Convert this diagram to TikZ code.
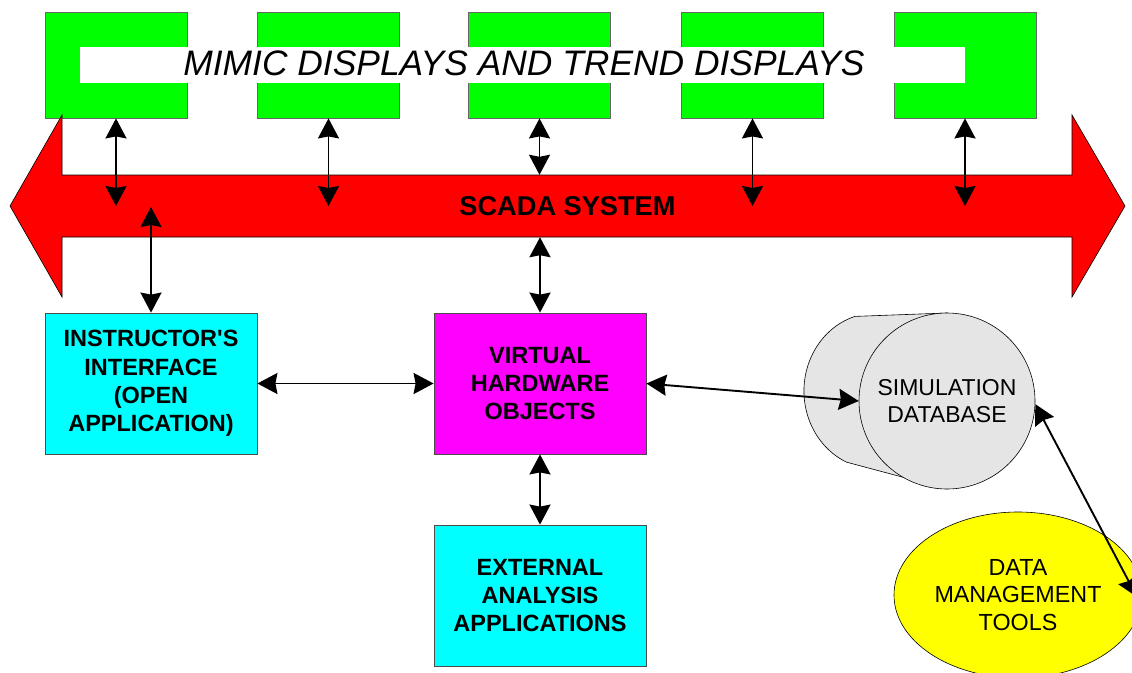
\documentclass[tikz,border=0pt]{standalone}
\usepackage{fontspec}
\setmainfont{Liberation Sans}
\usetikzlibrary{arrows.meta,shapes.geometric}
\definecolor{scgreen}{HTML}{00FF00}
\definecolor{scred}{HTML}{FF0000}
\definecolor{sccyan}{HTML}{00FFFF}
\definecolor{scmag}{HTML}{FF00FF}
\definecolor{scyellow}{HTML}{FFFF00}
\definecolor{scgray}{HTML}{E5E5E5}
\begin{document}
\begin{tikzpicture}[x=1pt,y=-1pt,
  gbox/.style={draw=black!60, line width=0.8pt, fill=scgreen, minimum width=142pt, minimum height=106pt, inner sep=0pt},
  mbox/.style={draw=black!70, line width=0.8pt, minimum width=212pt, minimum height=141pt, inner sep=0pt, align=center, font=\bfseries\fontsize{23.5}{28.3}\selectfont},
  conn/.style={line width=1.9pt, {Stealth[length=20pt,width=21pt,inset=2pt]}-{Stealth[length=20pt,width=21pt,inset=2pt]}},
  thin outline/.style={line width=0.6pt, draw=black}
]
\useasboundingbox (0,0) rectangle (1132,672);
\fill[white] (0,0) rectangle (1132,672);

% display boxes
\node[gbox] (g1) at (116,65) {};
\node[gbox] (g2) at (328.5,65) {};
\node[gbox] (g3) at (539.5,65) {};
\node[gbox] (g4) at (752.5,65) {};
\node[gbox] (g5) at (965,65) {};
\fill[white] (80,47) rectangle (965,83);
\node[font=\itshape\fontsize{35.4}{40}\selectfont, inner sep=0pt] (mimic) at (524,63) {MIMIC DISPLAYS AND TREND DISPLAYS};

% SCADA double arrow
\draw[thin outline, fill=scred] (10,206) -- (62,115) -- (62,175) -- (1072,175) -- (1072,115) -- (1125,206) -- (1072,297) -- (1072,237) -- (62,237) -- (62,297) -- cycle;
\node[minimum width=1010pt, minimum height=62pt, inner sep=0pt, font=\bfseries\fontsize{27.2}{30}\selectfont] (bar) at (567.5,206) {SCADA SYSTEM};

% boxes
\node[mbox, fill=sccyan] (inst) at (151,383.5) {INSTRUCTOR\textquotesingle S\\INTERFACE\\(OPEN\\APPLICATION)};
\node[mbox, fill=scmag] (vho) at (540,383.5) {VIRTUAL\\HARDWARE\\OBJECTS};
\node[mbox, fill=sccyan] (ext) at (540,595.5) {EXTERNAL\\ANALYSIS\\APPLICATIONS};

% database cylinder
\fill[scgray] (947,313) -- (854.9,316.4) arc[start angle=253,end angle=114.3,x radius=72,y radius=78] -- (947,489) -- (947,401) -- cycle;
\draw[thin outline] (947,313) -- (854.9,316.4) arc[start angle=253,end angle=114.3,x radius=72,y radius=78] -- (947,489);
\node[circle, thin outline, fill=scgray, minimum size=176pt, inner sep=0pt, align=center, font=\fontsize{23}{26.5}\selectfont] (db) at (947,401) {SIMULATION\\DATABASE};

% tools
\node[ellipse, thin outline, fill=scyellow, minimum width=248pt, minimum height=166pt, inner sep=0pt, align=center, font=\fontsize{23.3}{27.5}\selectfont] (tools) at (1018,595) {DATA\\MANAGEMENT\\TOOLS};

% connectors
\draw[conn] (g1.south) -- (g1.south |- bar.center);
\draw[conn] (g2.south) -- (g2.south |- bar.center);
\draw[conn] (g3.south) -- (g3.south |- bar.north);
\draw[conn] (g4.south) -- (g4.south |- bar.center);
\draw[conn] (g5.south) -- (g5.south |- bar.center);
\coordinate (ia) at (151,207);
\draw[conn] (ia) -- (ia |- inst.north);
\draw[conn] (vho.north |- bar.south) -- (vho.north);
\draw[conn] (inst.east) -- (vho.west);
\draw[conn] (vho.south) -- (ext.north);
\draw[conn] (vho.east) -- (db.west);
\coordinate (te) at (1137,597);
\draw[conn] (db.-2) -- (te);
\end{tikzpicture}
\end{document}
